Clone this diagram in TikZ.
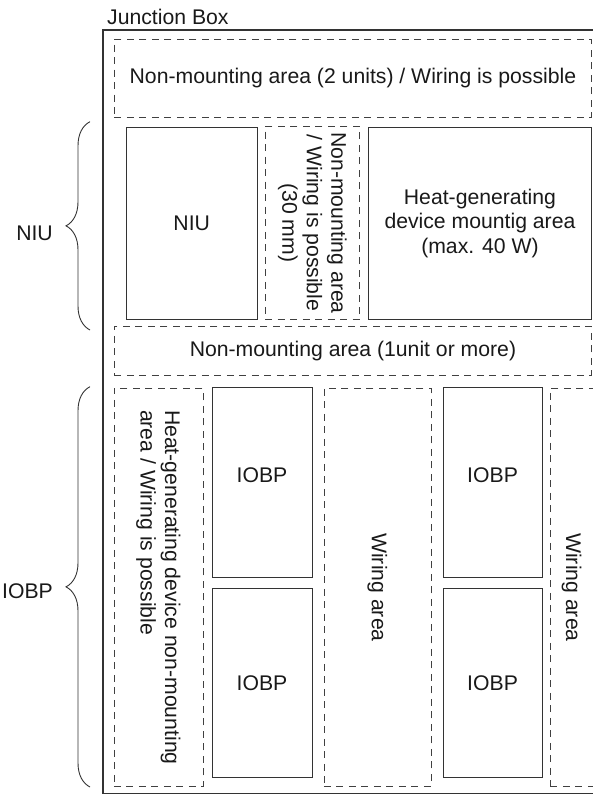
\documentclass[tikz,border=0pt]{standalone}
\usepackage{fontspec}
\setmainfont{Liberation Sans}
\usetikzlibrary{decorations.pathreplacing}

\begin{document}
\begin{tikzpicture}[x=1pt, y=-1pt,
  every node/.style={font=\fontsize{21.2}{24.5}\selectfont, text=black!90},
  unit/.style={draw=black!80, line width=0.9pt, inner sep=0pt, anchor=north west, align=center},
  unitup/.style={unit, text depth=14pt},
  zone/.style={draw=black!75, line width=0.9pt, dash pattern=on 7pt off 5.5pt, inner sep=0pt, anchor=north west},
  vtxt/.style={rotate=-90, align=left, inner sep=0pt},
  brc/.style={decorate, decoration={brace, amplitude=24pt}, line width=0.9pt, draw=black!80}]
\useasboundingbox (0,0) rectangle (593,794);

% junction box (right side runs off the page)
\node[draw=black!80, line width=1.6pt, inner sep=0pt, anchor=north west, minimum width=520pt, minimum height=763.7pt] (jb) at (102,29.3) {};
\node[anchor=base west, inner sep=0pt] (jblbl) at (107,24.5) {Junction Box};

\node[zone, minimum width=477pt, minimum height=78pt] (nm2) at (114,38.7) {Non-mounting area (2 units) / Wiring is possible};

% NIU row
\node[unit, minimum width=131.5pt, minimum height=191pt] (niu) at (125.5,127.5) {NIU};
\node[zone, minimum width=94.6pt, minimum height=193pt] (nm30) at (264.7,126) {};
\node[vtxt, align=center] (nm30txt) at (nm30.center) {Non-mounting area\\/ Wiring is possible\\(30 mm)};
\node[unit, minimum width=223pt, minimum height=191pt] (heat) at (368,127.5) {Heat-generating\\device mountig area\\(max. 40 W)};

\node[zone, minimum width=477pt, minimum height=49pt] (nm1) at (114,326) {Non-mounting area (1unit or more)};

% IOBP rows
\node[zone, minimum width=89pt, minimum height=398pt] (hnm) at (113.5,388) {};
\node[vtxt] (hnmtxt) at (hnm.center) {Heat-generating device non-mounting\\area / Wiring is possible};
\node[unitup, minimum width=100pt, minimum height=190.6pt] (iobpa) at (211.5,386.7) {IOBP};
\node[unit, minimum width=100pt, minimum height=189.3pt] (iobpb) at (211.5,588) {IOBP};
\node[zone, minimum width=107pt, minimum height=398pt] (wire) at (323.5,388) {};
\node[vtxt] (wiretxt) at (wire.center) {Wiring area};
\node[unitup, minimum width=99.2pt, minimum height=190.6pt] (iobpc) at (442.5,386.7) {IOBP};
\node[unit, minimum width=99.2pt, minimum height=189.3pt] (iobpd) at (442.5,588) {IOBP};
\node[zone, minimum width=42.5pt, minimum height=398pt] (wireb) at (550,388) {};
\node[vtxt] (wirebtxt) at (wireb.center) {Wiring area};

% braces
\coordinate (niutop) at (90,121.7);
\coordinate (niubot) at (90,330);
\coordinate (iobptop) at (90,386.7);
\coordinate (iobpbot) at (90,787);
\draw[brc] (niubot) -- (niutop);
\draw[brc] (iobpbot) -- (iobptop);
\node[anchor=east, inner sep=0pt] (niulbl) at (53,233) {NIU};
\node[anchor=east, inner sep=0pt] (iobplbl) at (53,591.5) {IOBP};
\end{tikzpicture}
\end{document}
